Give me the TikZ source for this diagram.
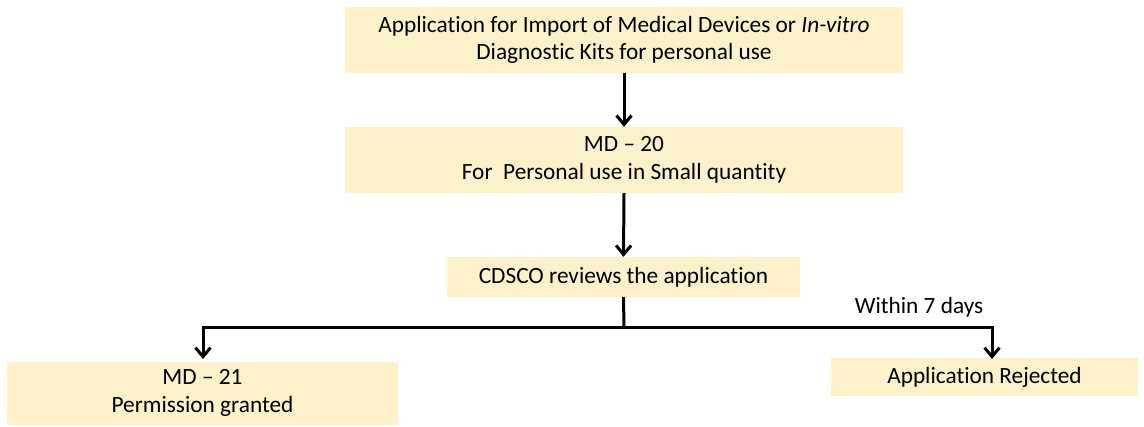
\documentclass[tikz,border=0pt]{standalone}
\usepackage{fontspec}
\setmainfont{Carlito}[Ligatures=NoCommon]
\usetikzlibrary{arrows.meta}
\definecolor{boxfill}{HTML}{FDF1CA}
\tikzset{
  stepbox/.style={fill=boxfill, draw=none, align=center, inner sep=0pt,
    font=\fontsize{23.3}{27.5}\selectfont},
  conn/.style={line width=3pt, -{Straight Barb[length=9pt,width=15pt,line width=3pt]}},
  plain/.style={line width=3pt},
}
\begin{document}
\begin{tikzpicture}[x=1pt,y=-1pt]
\useasboundingbox (0,0) rectangle (1144,426);
\node[stepbox, minimum width=558, minimum height=66] (a) at (624,40)
  {Application for Import of Medical Devices or \textit{In-vitro}\\Diagnostic Kits for personal use};
\node[stepbox, minimum width=558, minimum height=66] (b) at (624,160)
  {MD – 20\\For~~Personal use in Small quantity};
\node[stepbox, minimum width=353, minimum height=40] (c) at (623.5,277)
  {CDSCO reviews the application};
\node[stepbox, minimum width=391, minimum height=63] (d) at (202.5,393)
  {MD – 21\\Permission granted};
\node[stepbox, minimum width=307, minimum height=38] (e) at (984.5,377)
  {Application Rejected};
\node[font=\fontsize{23.3}{27.5}\selectfont, inner sep=0pt] (w) at (919,307) {Within 7 days};
\coordinate (j) at (624,327);
\coordinate (er) at (992,359);
\coordinate (dl) at (203,359);
\draw[conn] (a.south) -- (b.north);
\draw[conn] (b.south) -- (c.north);
\draw[plain] (c.south) -- (j);
\draw[conn] (j) -| (dl);
\draw[conn] (j) -| (er);
\end{tikzpicture}
\end{document}
